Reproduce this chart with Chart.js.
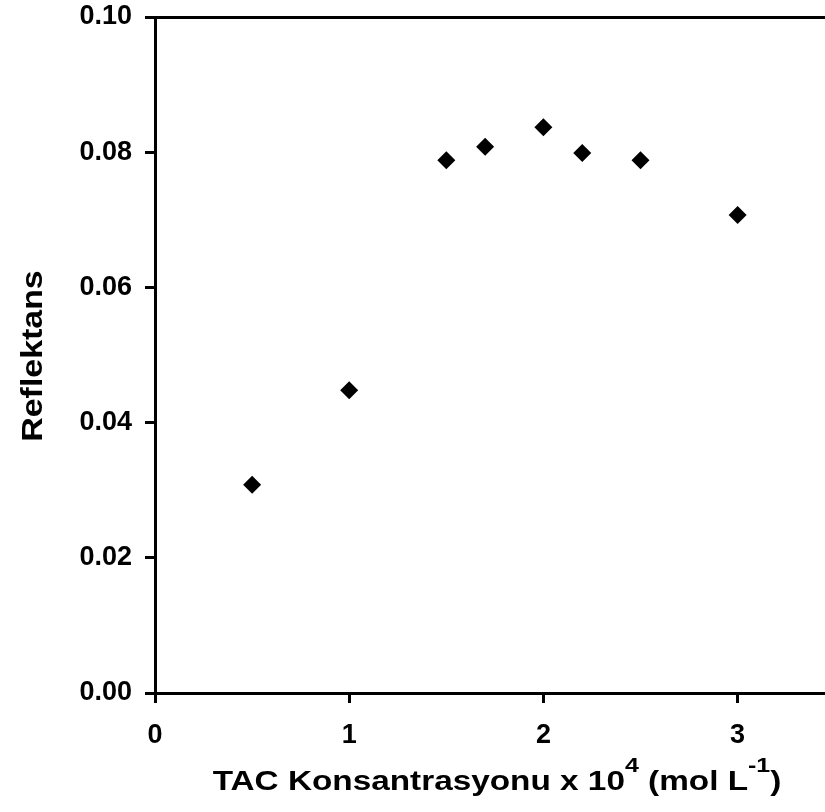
<!DOCTYPE html>
<html>
<head>
<meta charset="utf-8">
<script src="https://cdn.jsdelivr.net/npm/chart.js@4.4.0/dist/chart.umd.min.js"></script>
<style>
  html, body { margin: 0; padding: 0; background: #fff; overflow: hidden; }
  canvas { display: block; }
</style>
</head>
<body>
<canvas id="reflChart" width="825" height="812"></canvas>
<script>
// Reflektans - TAC konsantrasyonu
const concentrations = [0.5, 1.0, 1.5, 1.7, 2.0, 2.2, 2.5, 3.0];
const reflectance = [0.0308, 0.0448, 0.0788, 0.0808, 0.0837, 0.0799, 0.0788, 0.0707];
const xTicks = [0, 1, 2, 3];
const yTicks = [0.00, 0.02, 0.04, 0.06, 0.08, 0.10];
const yTitle = 'Reflektans';
// parcalar: [metin, ust simge mi]
const xTitle = [['TAC Konsantrasyonu x 10', false], ['4', true], [' (mol L', false], ['-1', true], [')', false]];

const FONT = '"Liberation Sans", Arial, sans-serif';
const tickFont = { family: FONT, size: 27, weight: 'bold' };

// eksen basliklari (ust simgeli x basligi icin elle cizim)
const axisTitles = {
    id: 'axisTitles',
    afterDraw(chart) {
        const { ctx, chartArea } = chart;
        const big = 'bold 28px ' + FONT;
        const small = 'bold 21px ' + FONT;
        const stretch = 1.19;

        ctx.save();
        ctx.fillStyle = '#000';
        ctx.textBaseline = 'alphabetic';
        let total = 0;
        const widths = xTitle.map(([t, sup]) => {
            ctx.font = sup ? small : big;
            const w = ctx.measureText(t).width;
            total += w;
            return w;
        });
        const cx = (chartArea.left + chartArea.right) / 2 + 7;
        ctx.translate(cx - total * stretch / 2, 790);
        ctx.scale(stretch, 1);
        let x = 0;
        xTitle.forEach(([t, sup], i) => {
            ctx.font = sup ? small : big;
            ctx.fillText(t, x, sup ? -18 : 0);
            x += widths[i];
        });
        ctx.restore();

        ctx.save();
        ctx.fillStyle = '#000';
        ctx.translate(42, (chartArea.top + chartArea.bottom) / 2 + 1);
        ctx.rotate(-Math.PI / 2);
        ctx.scale(1.13, 1);
        ctx.font = 'bold 30px ' + FONT;
        ctx.textAlign = 'center';
        ctx.textBaseline = 'alphabetic';
        ctx.fillText(yTitle, 0, 0);
        ctx.restore();
    }
};

const axisGrid = { drawOnChartArea: false, drawTicks: true, tickLength: 10, tickWidth: 3, tickColor: '#000' };
const axisBorder = { display: true, width: 3, color: '#000' };

// kenar boşluklarını sıfırla, çizim alanı tam kenara otursun
const noPad = s => { s.paddingTop = 0; s.paddingBottom = 0; s.paddingLeft = 0; s.paddingRight = 0; };

new Chart(document.getElementById('reflChart'), {
    type: 'scatter',
    data: {
        datasets: [{
            data: concentrations.map((c, i) => ({ x: c, y: reflectance[i] })),
            pointStyle: 'rectRot',
            pointRadius: 9,
            backgroundColor: '#000',
            borderWidth: 0
        }]
    },
    options: {
        responsive: false,
        animation: false,
        events: [],
        layout: { padding: 0, autoPadding: false },
        plugins: { legend: { display: false }, tooltip: { enabled: false } },
        scales: {
            x: {
                type: 'linear',
                position: 'bottom',
                min: 0,
                max: 3.45,
                afterBuildTicks: s => { s.ticks = xTicks.map(v => ({ value: v })); },
                afterFit: s => { s.height = 119; noPad(s); },
                grid: axisGrid,
                border: axisBorder,
                ticks: { color: '#000', font: tickFont, padding: 16, maxRotation: 0, autoSkip: false, callback: v => String(v) }
            },
            xTop: {
                type: 'linear',
                position: 'top',
                min: 0,
                max: 3.45,
                afterFit: s => { s.height = 17; noPad(s); },
                grid: { drawOnChartArea: false, drawTicks: false },
                border: axisBorder,
                ticks: { display: false }
            },
            y: {
                min: 0,
                max: 0.1,
                afterBuildTicks: s => { s.ticks = yTicks.map(v => ({ value: v })); },
                afterFit: s => { s.width = 155; noPad(s); },
                grid: axisGrid,
                border: axisBorder,
                ticks: { color: '#000', font: tickFont, padding: 13, autoSkip: false, callback: v => v.toFixed(2) }
            }
        }
    },
    plugins: [axisTitles]
});
</script>
</body>
</html>
